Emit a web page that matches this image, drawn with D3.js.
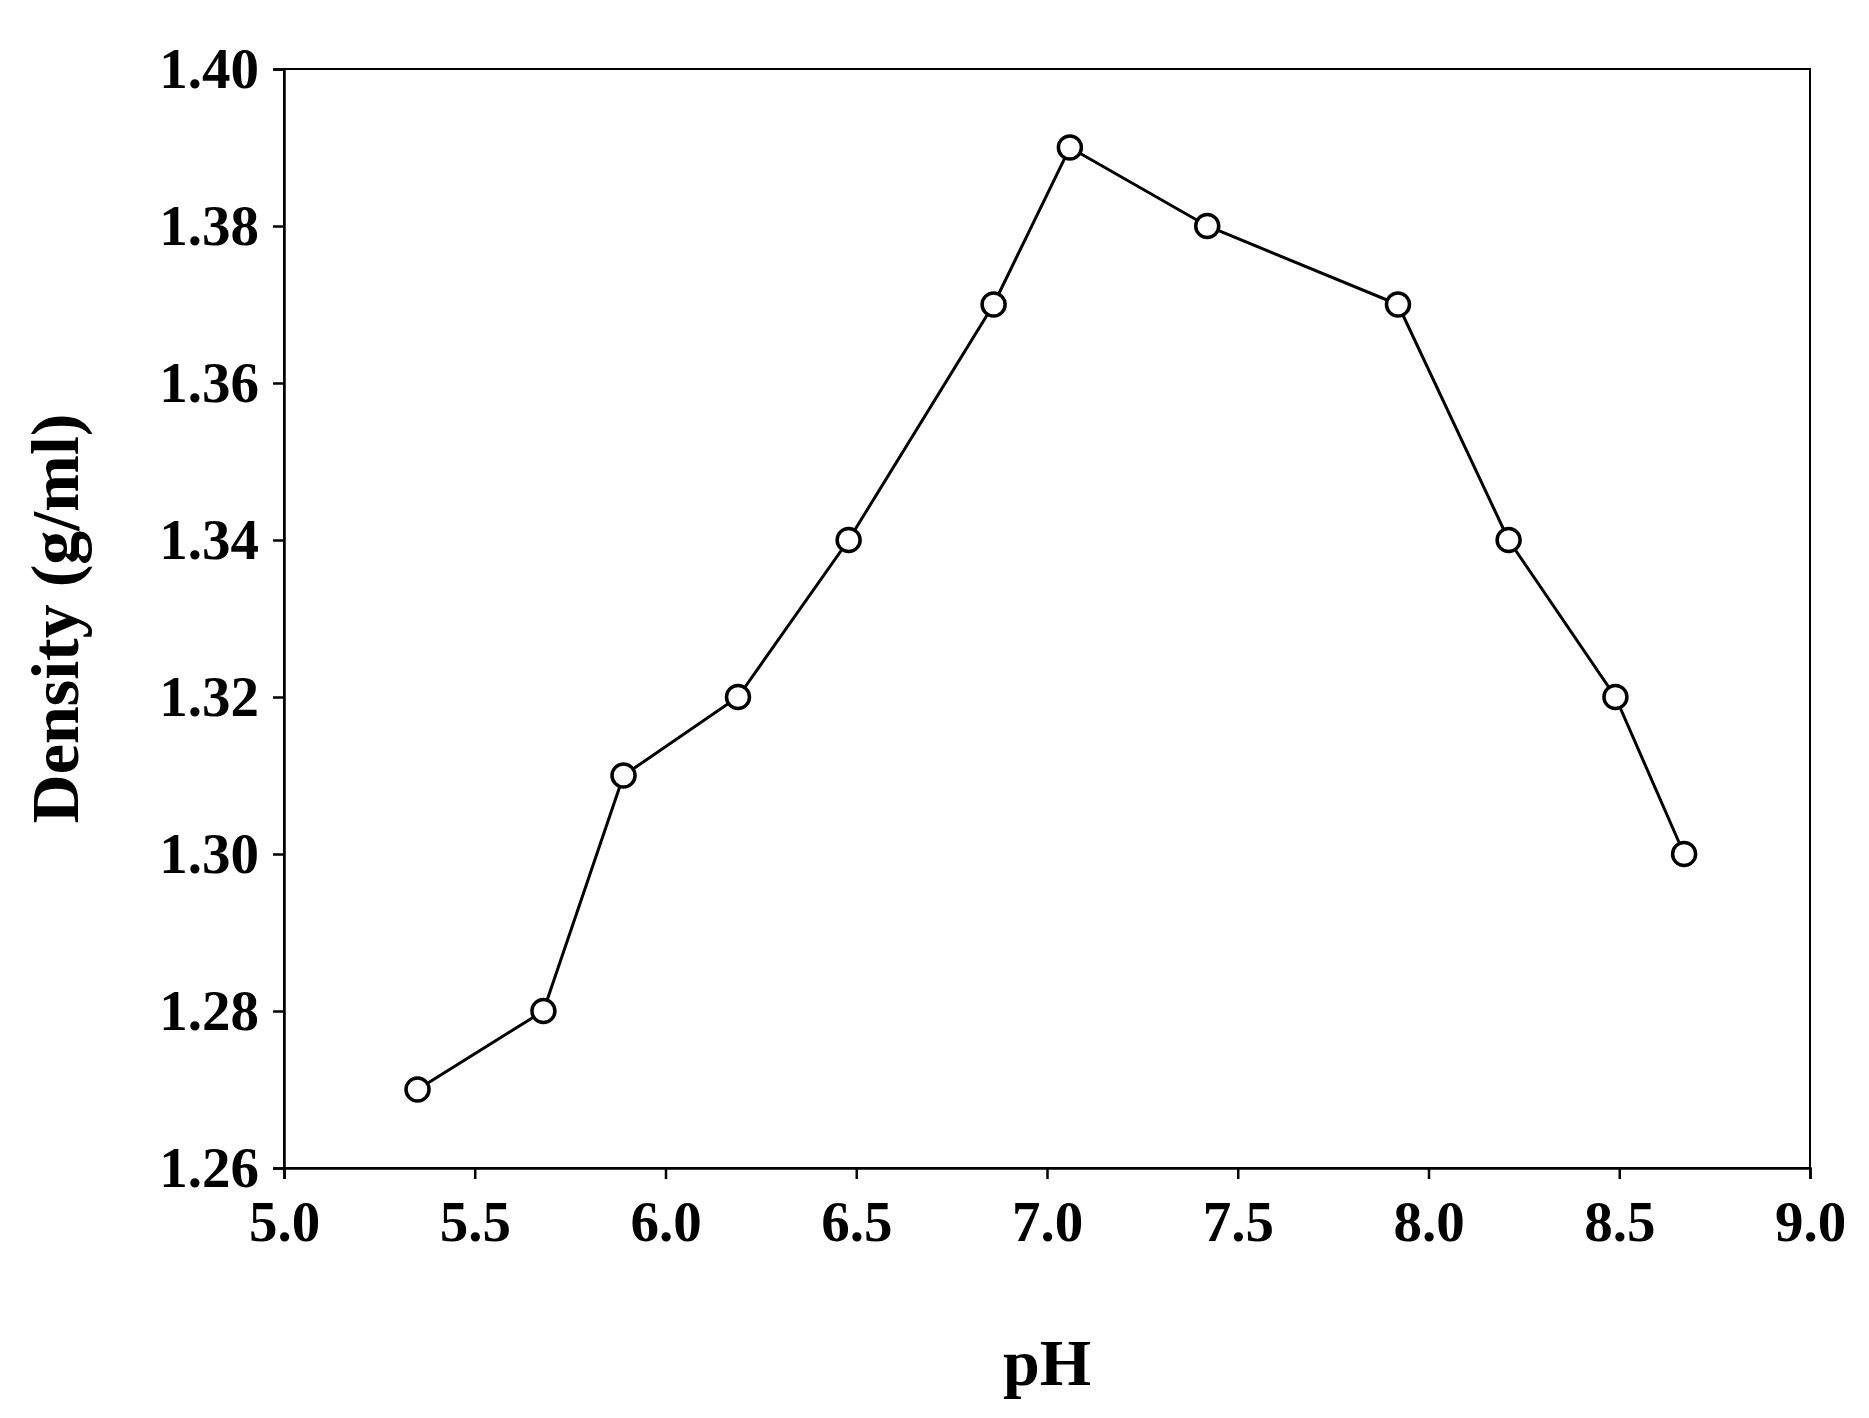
<!DOCTYPE html>
<html><head><meta charset="utf-8">
<script src="https://cdn.jsdelivr.net/npm/d3@7"></script>
<style>body{margin:0;background:#fff}</style></head>
<body><svg id="c" width="1869" height="1418"></svg>
<script>
const phValues = [5.35,5.68,5.89,6.19,6.48,6.86,7.06,7.42,7.92,8.21,8.49,8.67];
const density = [1.27,1.28,1.31,1.32,1.34,1.37,1.39,1.38,1.37,1.34,1.32,1.30];
const xTicks = [5.0,5.5,6.0,6.5,7.0,7.5,8.0,8.5,9.0];
const yTicks = [1.26,1.28,1.30,1.32,1.34,1.36,1.38,1.40];

const L=284,R=1810,T=69,B=1168;
const svg=d3.select("#c");
const x=d3.scaleLinear().domain([5,9]).range([L,R]);
const y=d3.scaleLinear().domain([1.26,1.40]).range([B,T]);
const font="'Liberation Serif','Times New Roman',serif";

svg.append("rect").attr("x",L).attr("y",T).attr("width",R-L).attr("height",B-T)
  .attr("fill","none").attr("stroke","#000").attr("stroke-width",2);

const xa=svg.append("g").attr("transform",`translate(0,${B})`)
  .call(d3.axisBottom(x).tickValues(xTicks).tickFormat(d3.format(".1f")).tickSizeOuter(0).tickSize(11).tickPadding(22));
const ya=svg.append("g").attr("transform",`translate(${L},0)`)
  .call(d3.axisLeft(y).tickValues(yTicks).tickFormat(d3.format(".2f")).tickSizeOuter(0).tickSize(11).tickPadding(14));
[xa,ya].forEach(a=>{
  a.select(".domain").attr("stroke","#000").attr("stroke-width",2.5);
  a.selectAll(".tick line").attr("stroke","#000").attr("stroke-width",2.5);
  a.selectAll("text").attr("font-family",font).attr("font-weight","bold").attr("font-size",57).attr("fill","#000");
});

svg.append("path").datum(phValues.map((p,i)=>[p,density[i]]))
  .attr("d",d3.line().x(d=>x(d[0])).y(d=>y(d[1])))
  .attr("fill","none").attr("stroke","#000").attr("stroke-width",3);
svg.selectAll("circle.pt").data(phValues).join("circle")
  .attr("cx",d=>x(d)).attr("cy",(d,i)=>y(density[i])).attr("r",11.5)
  .attr("fill","#fff").attr("stroke","#000").attr("stroke-width",3.5);

svg.append("text").attr("x",(L+R)/2).attr("y",1385).attr("text-anchor","middle")
  .attr("font-family",font).attr("font-weight","bold").attr("font-size",66).text("pH");
svg.append("text").attr("transform",`translate(78,${(T+B)/2}) rotate(-90)`).attr("text-anchor","middle")
  .attr("font-family",font).attr("font-weight","bold").attr("font-size",68).text("Density (g/ml)");
</script></body></html>
